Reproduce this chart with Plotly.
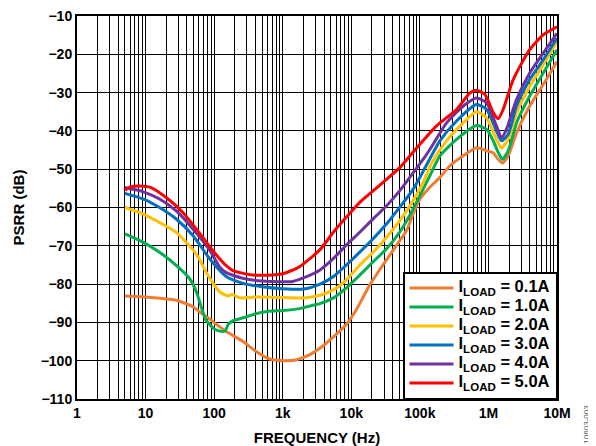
import plotly.graph_objects as go

# ---------------- data ----------------
freq_01 = [5, 10, 15, 28, 49, 61, 87, 150, 265, 410, 630, 1000, 1550, 2450, 3400, 5500, 8500,
           12000, 18600, 29000, 46000, 64000, 80000, 100000, 140000, 195000, 275000, 430000,
           670000, 940000, 1170000, 1380000, 1600000, 1940000, 2570000, 4000000, 6300000, 10000000]
psrr_01 = [-83.1, -83.4, -83.6, -84.2, -85.9, -87.2, -89.2, -92.4, -95.0, -97.6, -99.5, -100.0, -99.8,
           -98.5, -96.9, -93.8, -90.5, -86.5, -80.2, -75.0, -69.8, -66.0, -61.6, -57.8, -54.7, -52.2,
           -49.1, -46.5, -44.4, -45.2, -45.7, -47.4, -48.4, -46.5, -40.5, -33.5, -27.9, -21.9]

freq_10 = [5, 9.3, 16, 28, 44, 55, 65, 76, 100, 130, 145, 160, 186, 265, 410, 630, 1000, 1750, 2750,
           3500, 5500, 8500, 13400, 21000, 33000, 51000, 71000, 100000, 140000, 196000, 343000,
           670000, 940000, 1170000, 1380000, 1600000, 1940000, 2570000, 4000000, 6300000, 10000000]
psrr_10 = [-66.9, -69.1, -71.7, -75.1, -78.6, -82.0, -86.0, -89.4, -91.7, -92.4, -92.2, -90.6, -89.6,
           -88.8, -87.7, -87.1, -86.9, -86.4, -85.5, -85.1, -83.6, -81.0, -77.6, -74.1, -70.7, -66.4,
           -62.1, -56.9, -51.7, -46.5, -42.2, -38.6, -39.6, -42.5, -45.5, -47.4, -45.2, -37.9, -30.9,
           -24.9, -18.8]

freq_20 = [5, 9.3, 16, 28, 49, 61, 80, 120, 160, 186, 235, 400, 1000, 2000, 3500, 5500, 8500,
           13400, 21000, 33000, 51000, 80000, 112000, 150000, 245000, 430000, 670000, 940000,
           1310000, 1550000, 1940000, 2570000, 4000000, 6300000, 10000000]
psrr_20 = [-60.0, -61.7, -63.9, -66.5, -71.0, -73.5, -77.5, -82.0, -83.1, -82.7, -83.6, -83.4, -83.5,
           -83.6, -82.9, -81.5, -78.9, -75.0, -71.6, -67.7, -63.4, -58.2, -53.4, -48.3, -42.6, -37.9,
           -35.0, -36.6, -42.2, -44.5, -42.2, -35.3, -28.4, -22.7, -16.7]

freq_30 = [5, 9.3, 16, 28, 49, 87, 150, 265, 500, 1000, 2000, 3500, 5500, 8500, 13400, 21000,
           33000, 51000, 80000, 120000, 196000, 343000, 670000, 940000, 1310000, 1550000, 1940000,
           2570000, 4000000, 6300000, 10000000]
psrr_30 = [-56.3, -57.8, -60.0, -63.0, -67.3, -73.5, -78.0, -79.8, -80.7, -81.2, -81.3, -80.0, -78.0,
           -75.0, -71.6, -68.1, -64.2, -59.9, -55.2, -49.5, -42.6, -37.4, -33.1, -34.4, -40.0, -42.6,
           -40.9, -33.5, -26.6, -21.4, -15.8]

freq_40 = [5, 9.3, 16, 28, 49, 85, 120, 150, 265, 500, 1000, 1400, 2000, 3500, 5500, 8500, 13400,
           21000, 33000, 51000, 80000, 112000, 150000, 245000, 430000, 670000, 940000, 1310000,
           1550000, 1830000, 2570000, 4000000, 6300000, 10000000]
psrr_40 = [-54.8, -55.9, -57.8, -60.9, -65.6, -71.0, -75.5, -77.0, -78.5, -79.2, -79.4, -79.3, -78.4,
           -76.3, -73.3, -69.8, -66.4, -62.9, -59.5, -55.6, -50.9, -47.4, -44.0, -37.9, -33.5, -31.4,
           -32.7, -38.7, -41.8, -39.6, -31.8, -24.9, -19.7, -14.5]

freq_50 = [5, 6, 8, 12, 20, 35, 60, 100, 150, 185, 320, 575, 1000, 1750, 3500, 5500, 8500, 13400,
           21000, 33000, 51000, 71000, 100000, 175000, 343000, 537000, 670000, 890000, 1180000,
           1390000, 1640000, 2300000, 4000000, 6300000, 10000000]
psrr_50 = [-55.5, -54.6, -54.4, -54.8, -57.4, -61.3, -66.5, -71.7, -75.2, -76.4, -77.5, -77.7, -77.3,
           -75.5, -71.0, -66.4, -62.5, -58.6, -55.6, -52.6, -49.6, -46.6, -43.5, -38.7, -34.4, -30.1,
           -29.4, -30.5, -35.3, -36.8, -34.4, -26.6, -18.8, -14.9, -12.8]

series_names = ["I<sub>LOAD</sub> = 0.1A", "I<sub>LOAD</sub> = 1.0A", "I<sub>LOAD</sub> = 2.0A",
                "I<sub>LOAD</sub> = 3.0A", "I<sub>LOAD</sub> = 4.0A", "I<sub>LOAD</sub> = 5.0A"]
series_colors = ["#EE7D31", "#00B050", "#FFC000", "#0070C0", "#7030A0", "#FF0000"]

x_tick_text = ["1", "10", "100", "1k", "10k", "100k", "1M", "10M"]
y_tick_vals = [-10, -20, -30, -40, -50, -60, -70, -80, -90, -100, -110]

# ---------------- figure ----------------
FONT = "Liberation Sans, Arial, sans-serif"
fig = go.Figure()

freqs = [freq_01, freq_10, freq_20, freq_30, freq_40, freq_50]
psrrs = [psrr_01, psrr_10, psrr_20, psrr_30, psrr_40, psrr_50]
for f, p, n, c in zip(freqs, psrrs, series_names, series_colors):
    fig.add_trace(go.Scatter(x=f, y=p, mode="lines",
                             name='<span style="font-size:16.5px">' + n + '</span>',
                             line=dict(color=c, width=3, shape="spline", smoothing=0.6)))

# all gridline positions (1..9 per decade) with labels only at decades
grid_vals, grid_text = [], []
for d in range(7):
    for m in range(1, 10):
        grid_vals.append(m * 10 ** d)
        grid_text.append(x_tick_text[d] if m == 1 else "")
grid_vals.append(1e7)
grid_text.append(x_tick_text[-1])

# the page body adds an 8px offset, so the figure is 8px smaller than the window
fig.update_layout(
    width=588, height=438,
    margin=dict(l=69, r=39, t=8, b=47),
    paper_bgcolor="white", plot_bgcolor="white",
    font=dict(family=FONT, size=13, color="black"),
    showlegend=True,
    legend=dict(x=1, y=0, xanchor="right", yanchor="bottom",
                bgcolor="white", bordercolor="black", borderwidth=1.5,
                font=dict(family=FONT, size=11, color="black", weight="bold"),
                tracegroupgap=0, itemwidth=44, traceorder="normal"),
)

fig.update_xaxes(
    type="log", range=[0, 7],
    tickvals=grid_vals, ticktext=grid_text,
    showgrid=True, gridcolor="black", gridwidth=1.2,
    showline=True, linecolor="black", linewidth=2, mirror=True,
    ticks="", tickfont=dict(family=FONT, size=14, weight="bold"),
    ticklabeloverflow="allow",
    title=dict(text="<b>FREQUENCY (Hz)</b>", font=dict(family=FONT, size=15), standoff=14),
    zeroline=False, automargin=False,
)
fig.update_yaxes(
    range=[-110, -10], tickvals=y_tick_vals,
    showgrid=True, gridcolor="black", gridwidth=1.2,
    showline=True, linecolor="black", linewidth=2, mirror=True,
    ticks="", tickfont=dict(family=FONT, size=14, weight="bold"),
    ticklabeloverflow="allow",
    title=dict(text="<b>PSRR (dB)</b>", font=dict(family=FONT, size=15), standoff=12),
    zeroline=False, automargin=False,
)

fig.add_annotation(text="10603-003", xref="paper", yref="paper", x=1.062, y=-0.065,
                   xanchor="center", yanchor="middle", textangle=-90, showarrow=False,
                   font=dict(family=FONT, size=8, color="#555555"))

fig.write_html("out.html")
